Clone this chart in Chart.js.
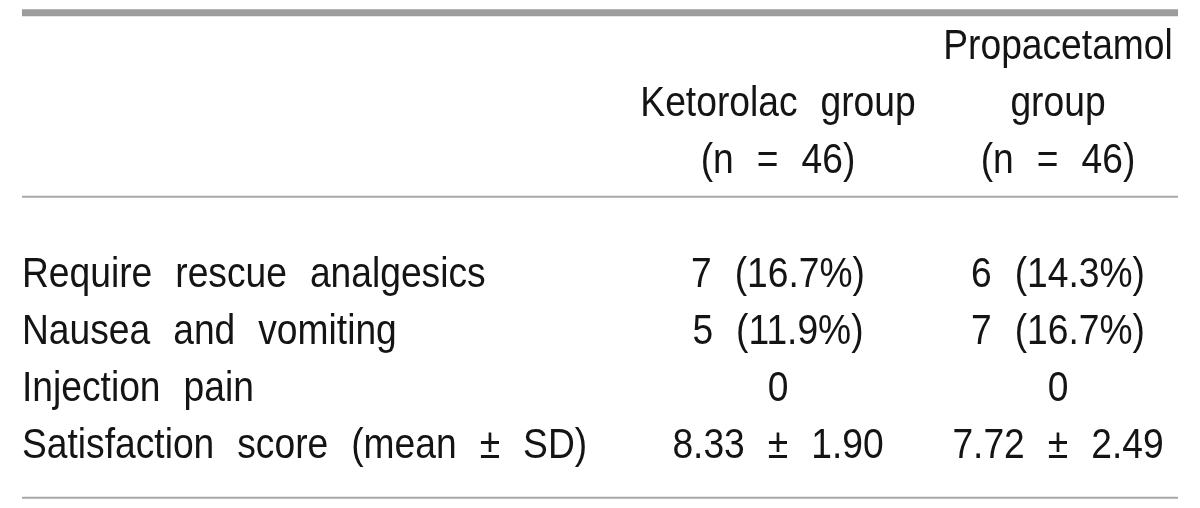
<!DOCTYPE html>
<html>
<head>
<meta charset="utf-8">
<script src="https://cdn.jsdelivr.net/npm/chart.js@4.4.1/dist/chart.umd.min.js"></script>
<style>
  html, body { margin: 0; padding: 0; background: #fff; }
  #wrap { width: 1200px; height: 508px; }
</style>
</head>
<body>
<div id="wrap"><canvas id="table"></canvas></div>
<script>
// Table contents
const rowLabels = ['Require rescue analgesics', 'Nausea and vomiting', 'Injection pain', 'Satisfaction score (mean ± SD)'];
const ketorolac = ['7 (16.7%)', '5 (11.9%)', '0', '8.33 ± 1.90'];
const propacetamol = ['6 (14.3%)', '7 (16.7%)', '0', '7.72 ± 2.49'];
const headerKetorolac = ['Ketorolac group', '(n = 46)'];
const headerPropacetamol = ['Propacetamol', 'group', '(n = 46)'];

// Layout: column anchors on x, row index on y
const colX = [22, 778, 1058];
const rules = [
    { y: -4.55, width: 7, color: '#9c9c9c' },
    { y: -1.32, width: 2, color: '#a8a8a8' },
    { y: 3.96, width: 2, color: '#a8a8a8' }
];
const FONT_SIZE = 43;
const SCALE_X = 0.865;
const WORD_GAP = 23;

// Build cells: {x, y, text, align}
const cells = [];
headerKetorolac.forEach((t, i) => cells.push({ x: colX[1], y: i - 3, text: t, align: 'center' }));
headerPropacetamol.forEach((t, i) => cells.push({ x: colX[2], y: i - 4, text: t, align: 'center' }));
rowLabels.forEach((t, i) => cells.push({ x: colX[0], y: i, text: t, align: 'left' }));
ketorolac.forEach((t, i) => cells.push({ x: colX[1], y: i, text: t, align: 'center' }));
propacetamol.forEach((t, i) => cells.push({ x: colX[2], y: i, text: t, align: 'center' }));

function drawSpaced(ctx, text, x, y, align) {
    const words = text.split(' ');
    const widths = words.map(w => ctx.measureText(w).width * SCALE_X);
    const total = widths.reduce((a, b) => a + b, 0) + WORD_GAP * (words.length - 1);
    let cx = align === 'center' ? x - total / 2 : x;
    words.forEach((w, i) => {
        ctx.save();
        ctx.translate(cx, y);
        ctx.scale(SCALE_X, 1);
        ctx.fillText(w, 0, 0);
        ctx.restore();
        cx += widths[i] + WORD_GAP;
    });
}

const tablePlugin = {
    id: 'tableText',
    afterDatasetsDraw(chart) {
        const ctx = chart.ctx;
        const xs = chart.scales.x;
        const ys = chart.scales.y;
        ctx.save();
        // horizontal rules
        rules.forEach(r => {
            const py = ys.getPixelForValue(r.y);
            ctx.strokeStyle = r.color;
            ctx.lineWidth = r.width;
            ctx.beginPath();
            ctx.moveTo(xs.getPixelForValue(22), py);
            ctx.lineTo(xs.getPixelForValue(1178), py);
            ctx.stroke();
        });
        // cell texts at each point's position
        ctx.fillStyle = '#141414';
        ctx.font = FONT_SIZE + 'px "Liberation Sans", Arial, sans-serif';
        ctx.textAlign = 'left';
        ctx.textBaseline = 'alphabetic';
        const meta = chart.getDatasetMeta(0);
        meta.data.forEach((pt, i) => {
            const c = cells[i];
            drawSpaced(ctx, c.text, pt.x, pt.y + FONT_SIZE * 0.358, c.align);
        });
        ctx.restore();
    }
};

new Chart(document.getElementById('table'), {
    type: 'scatter',
    data: {
        datasets: [{
            data: cells.map(c => ({ x: c.x, y: c.y })),
            pointRadius: 0,
            pointHoverRadius: 0
        }]
    },
    options: {
        responsive: true,
        maintainAspectRatio: false,
        animation: false,
        layout: { padding: 0 },
        plugins: { legend: { display: false }, tooltip: { enabled: false } },
        scales: {
            x: { type: 'linear', display: false, min: 0, max: 1200 },
            y: { type: 'linear', display: false, reverse: true, min: -4.772, max: 4.140 }
        }
    },
    plugins: [tablePlugin]
});
</script>
</body>
</html>
